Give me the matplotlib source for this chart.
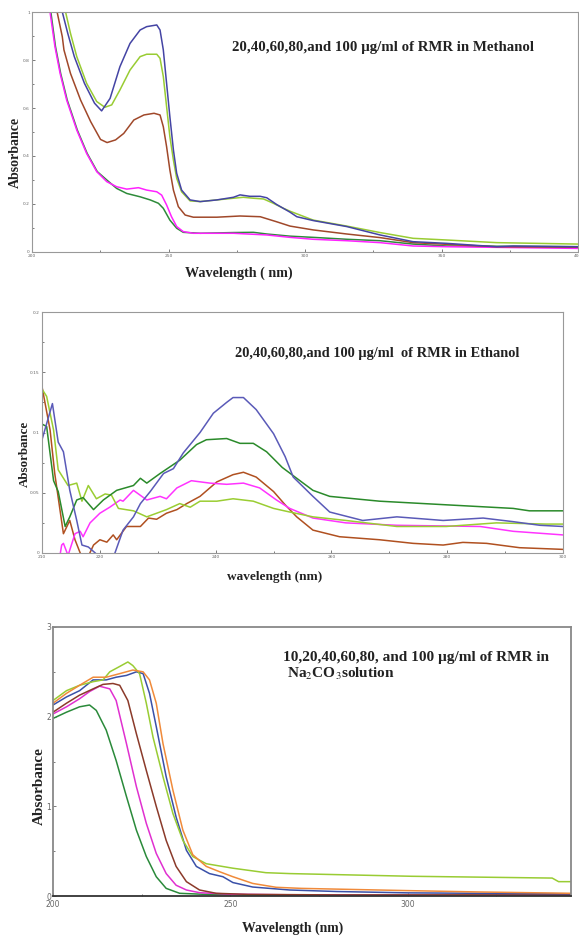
import matplotlib
matplotlib.use("Agg")
import matplotlib.pyplot as plt
from matplotlib.ticker import FixedLocator, FixedFormatter

plt.rcParams['mathtext.fontset'] = 'stix'

# ---------------- Panel 1: Methanol ----------------
m_blue_wl = [200, 205, 208, 211.1, 213.1, 215.5, 219.2, 222.9, 225.5, 228.6, 232.2, 235.9, 239.6, 242.0, 245.7, 246.9,
             248.1, 249.3, 250.5, 251.8, 253.0, 254.8, 257.9, 261.6, 267.7, 273.8, 276.2, 279.8, 283.6, 286.0, 289.6,
             294.5, 297.0, 303.0, 315.3, 327.5, 339.6, 351.9, 370.2, 376.3, 400]
m_blue = [1.80, 1.35, 1.12, 1.0, 0.911, 0.814, 0.703, 0.62, 0.588, 0.640, 0.772, 0.869, 0.925, 0.939, 0.946, 0.925,
          0.842, 0.703, 0.564, 0.425, 0.328, 0.258, 0.217, 0.21, 0.217, 0.228, 0.238, 0.232, 0.232, 0.226, 0.198,
          0.166, 0.147, 0.131, 0.106, 0.071, 0.043, 0.036, 0.022, 0.025, 0.022]

m_yg_wl = [200, 206, 209, 212.3, 214.1, 216.4, 220.0, 223.7, 226.7, 229.2, 232.2, 235.9, 239.6, 242.0, 245.7, 246.9,
           248.1, 249.3, 250.5, 251.8, 253.0, 254.8, 257.9, 261.6, 267.7, 273.8, 277.4, 281.1, 284.8, 288.4, 292.1,
           294.5, 303.0, 315.3, 327.5, 339.6, 351.9, 370.2, 400]
m_yg = [1.80, 1.30, 1.12, 1.0, 0.911, 0.814, 0.703, 0.627, 0.603, 0.613, 0.675, 0.758, 0.814, 0.824, 0.824, 0.807,
        0.731, 0.606, 0.481, 0.383, 0.307, 0.251, 0.213, 0.21, 0.217, 0.224, 0.228, 0.224, 0.221, 0.203, 0.182,
        0.170, 0.133, 0.108, 0.081, 0.057, 0.05, 0.039, 0.033]

m_br_wl = [200, 205, 209.2, 211.1, 211.7, 214.1, 217.8, 221.5, 225.1, 227.5, 230.6, 233.6, 237.3, 241.0, 244.7, 246.9,
           248.1, 249.3, 250.5, 251.8, 253.6, 256.1, 259.1, 267.7, 276.2, 283.6, 289.6, 294.5, 303.0, 315.3, 327.5,
           339.6, 351.9, 370.2, 400]
m_br = [1.70, 1.25, 1.0, 0.897, 0.842, 0.744, 0.633, 0.543, 0.469, 0.456, 0.467, 0.494, 0.550, 0.571, 0.578, 0.571,
        0.522, 0.439, 0.342, 0.258, 0.189, 0.154, 0.145, 0.145, 0.15, 0.147, 0.126, 0.108, 0.092, 0.075, 0.060,
        0.039, 0.032, 0.022, 0.020]

m_mg_wl = [200, 204, 206.6, 208.4, 210.3, 212.7, 216.4, 220.0, 223.7, 227.4, 231.0, 234.7, 239.0, 242.0, 245.7, 247.5,
           249.3, 251.1, 253.0, 255.4, 259.1, 273.8, 286.0, 294.5, 303.0, 315.3, 327.5, 339.6, 351.9, 400]
m_mg = [1.60, 1.20, 1.0, 0.856, 0.744, 0.633, 0.508, 0.411, 0.335, 0.293, 0.272, 0.262, 0.268, 0.258, 0.251, 0.237,
        0.196, 0.147, 0.106, 0.085, 0.078, 0.078, 0.071, 0.061, 0.053, 0.047, 0.039, 0.025, 0.022, 0.015]

m_gr_wl = [200, 204.3, 206.9, 208.6, 210.5, 212.9, 216.6, 220.2, 223.9, 227.4, 231.0, 234.7, 239.6, 243.3, 246.3,
           248.1, 250.5, 253.0, 255.4, 261.6, 273.8, 281.1, 286.0, 294.5, 303.0, 315.3, 327.5, 339.6, 351.9, 400]
m_gr = [1.60, 1.20, 1.0, 0.856, 0.744, 0.633, 0.508, 0.411, 0.335, 0.300, 0.265, 0.244, 0.230, 0.217, 0.203,
        0.182, 0.133, 0.099, 0.082, 0.078, 0.081, 0.082, 0.075, 0.066, 0.061, 0.053, 0.047, 0.033, 0.025, 0.022]

# ---------------- Panel 2: Ethanol ----------------
e_blue_wl = [210, 211.8, 212.8, 213.7, 214.8, 216.0, 216.9, 218.0, 219.2, 221.0, 222.6, 224.0, 225.8, 227.0, 228.7,
             231.0, 232.7, 234.4, 237.3, 239.6, 241.9, 243.0, 244.8, 247.0, 250.0, 252.0, 253.4, 256.8, 259.7, 265.4,
             271.3, 279.3, 286.2, 291.4, 296.0, 300]
e_blue = [0.094, 0.124, 0.092, 0.084, 0.052, 0.027, 0.0066, 0.005, 0.0, -0.01, 0.0, 0.019, 0.030, 0.041, 0.051,
          0.066, 0.070, 0.083, 0.100, 0.116, 0.125, 0.129, 0.129, 0.119, 0.099, 0.080, 0.063, 0.047, 0.034, 0.027,
          0.030, 0.027, 0.029, 0.026, 0.023, 0.022]

e_gr_wl = [210, 210.8, 212.0, 212.8, 214.0, 214.8, 216.0, 217.1, 218.9, 220.6, 222.9, 225.8, 227.0, 228.1, 230.4,
           233.8, 236.7, 238.4, 241.9, 244.2, 246.5, 248.8, 251.5, 254.0, 256.8, 259.7, 268.3, 279.8, 291.4, 294.2, 300]
e_gr = [0.107, 0.105, 0.060, 0.051, 0.022, 0.030, 0.044, 0.046, 0.036, 0.044, 0.052, 0.056, 0.062, 0.058, 0.066,
        0.077, 0.090, 0.094, 0.095, 0.091, 0.091, 0.084, 0.071, 0.062, 0.052, 0.047, 0.043, 0.040, 0.037, 0.035, 0.035]

e_yg_wl = [210, 210.8, 212.0, 212.8, 214.5, 216.0, 216.9, 218.0, 219.4, 220.9, 222.0, 223.2, 225.8, 228.1, 229.8,
           231.5, 233.8, 235.6, 237.3, 240.2, 243.0, 246.5, 250.0, 252.8, 256.8, 262.5, 271.3, 279.8, 288.5, 297.1, 300]
e_yg = [0.136, 0.130, 0.102, 0.069, 0.056, 0.058, 0.043, 0.056, 0.045, 0.049, 0.048, 0.037, 0.035, 0.030, 0.033,
        0.036, 0.041, 0.038, 0.043, 0.043, 0.045, 0.043, 0.037, 0.034, 0.030, 0.027, 0.022, 0.022, 0.025, 0.024, 0.024]

e_mg_wl = [213.0, 213.4, 213.7, 214.5, 215.7, 216.6, 217.1, 218.3, 220.0, 221.7, 223.5, 224.0, 225.8, 228.1, 230.4,
           231.5, 233.3, 235.8, 239.0, 241.9, 244.8, 247.6, 250.5, 252.8, 256.8, 262.5, 271.3, 285.7, 291.4, 300]
e_mg = [-0.005, 0.0066, 0.008, -0.002, 0.016, 0.018, 0.0135, 0.025, 0.033, 0.038, 0.044, 0.043, 0.052, 0.044, 0.047,
        0.045, 0.054, 0.060, 0.058, 0.057, 0.058, 0.054, 0.044, 0.037, 0.029, 0.025, 0.023, 0.022, 0.018, 0.015]

e_br_wl = [210, 211.4, 212.2, 213.7, 214.8, 215.7, 216.6, 217.5, 218.9, 220.0, 221.2, 222.3, 222.9, 224.6, 227.0,
           228.4, 229.8, 231.5, 233.3, 235.0, 237.3, 240.2, 243.0, 244.8, 247.0, 250.0, 252.0, 254.0, 256.8, 261.4,
           268.3, 274.1, 279.3, 282.7, 286.8, 292.5, 300]
e_br = [0.138, 0.102, 0.066, 0.016, 0.027, 0.011, 0.0, -0.008, 0.0066, 0.011, 0.009, 0.015, 0.011, 0.022, 0.022,
        0.029, 0.028, 0.033, 0.036, 0.041, 0.047, 0.059, 0.065, 0.067, 0.063, 0.051, 0.040, 0.030, 0.019, 0.0135,
        0.011, 0.008, 0.0066, 0.0088, 0.008, 0.0044, 0.003]

# ---------------- Panel 3: Na2CO3 ----------------
n_gr_wl = [200, 203.8, 207.5, 210.3, 212.2, 215.0, 217.8, 220.7, 223.5, 226.3, 229.1, 231.9, 235.7, 245, 260, 300, 346]
n_gr = [1.98, 2.05, 2.11, 2.13, 2.07, 1.85, 1.51, 1.11, 0.735, 0.44, 0.215, 0.085, 0.03, 0.015, 0.01, 0.008, 0.01]

n_mg_wl = [200, 203.8, 207.5, 210.3, 213.1, 216.0, 217.8, 220.7, 223.5, 226.3, 229.1, 231.9, 234.7, 237.6, 241.3,
           250, 270, 300, 320, 346]
n_mg = [2.03, 2.11, 2.20, 2.28, 2.34, 2.31, 2.18, 1.70, 1.22, 0.81, 0.475, 0.25, 0.12, 0.067, 0.037,
        0.02, 0.012, 0.008, 0.005, 0.01]

n_br_wl = [200, 203.8, 207.5, 211.3, 214.1, 216.9, 218.8, 221.1, 223.5, 226.3, 229.1, 231.9, 234.7, 237.6, 241.3,
           246.0, 255, 280, 346]
n_br = [2.05, 2.15, 2.24, 2.31, 2.36, 2.37, 2.35, 2.18, 1.81, 1.40, 1.00, 0.62, 0.33, 0.16, 0.067,
        0.03, 0.018, 0.012, 0.012]

n_blue_wl = [200, 203.8, 207.5, 211.3, 215.0, 217.8, 220.7, 223.5, 225.4, 227.2, 229.1, 231.9, 234.7, 237.6, 240.4,
             244.1, 247.9, 250.7, 256.3, 266.7, 280, 300, 320, 346]
n_blue = [2.13, 2.22, 2.29, 2.41, 2.41, 2.44, 2.46, 2.50, 2.48, 2.26, 1.89, 1.33, 0.88, 0.51, 0.33,
          0.25, 0.215, 0.15, 0.10, 0.067, 0.05, 0.035, 0.03, 0.025]

n_yg_wl = [200, 203.8, 207.5, 211.3, 214.1, 216.0, 218.8, 221.1, 222.5, 224.4, 226.3, 228.2, 231.0, 233.8, 236.6,
           239.4, 243.2, 250.7, 260.0, 266.7, 301.0, 340.7, 342.5, 346]
n_yg = [2.18, 2.29, 2.35, 2.39, 2.41, 2.50, 2.56, 2.61, 2.57, 2.48, 2.15, 1.77, 1.33, 0.92, 0.62,
        0.44, 0.36, 0.31, 0.26, 0.25, 0.22, 0.20, 0.16, 0.16]

n_or_wl = [200, 203.8, 207.5, 211.3, 215.0, 218.8, 222.5, 225.4, 227.2, 229.1, 231.0, 233.8, 236.6, 239.4, 243.2,
           247.0, 250.7, 256.3, 262.9, 270, 300, 320, 346]
n_or = [2.15, 2.26, 2.35, 2.44, 2.44, 2.48, 2.52, 2.50, 2.41, 2.15, 1.70, 1.18, 0.735, 0.46, 0.33,
        0.27, 0.215, 0.14, 0.097, 0.085, 0.06, 0.045, 0.03]

W, H = 579, 936
fig = plt.figure(figsize=(W / 100, H / 100), dpi=100)

def ax_at(left, top, right, bottom):
    return fig.add_axes([left / W, 1 - bottom / H, (right - left) / W, (bottom - top) / H])

def ftext(x, y, s, **kw):
    kw.setdefault('family', 'Liberation Serif')
    kw.setdefault('weight', 'bold')
    kw.setdefault('color', '#222222')
    fig.text(x / W, 1 - y / H, s, **kw)

def style(ax, spine_color, spine_w, tick_size):
    for sp in ax.spines.values():
        sp.set_color(spine_color)
        sp.set_linewidth(spine_w)
    ax.tick_params(which='both', direction='in', colors='#666666', labelsize=tick_size, pad=1.5)
    ax.tick_params(which='major', length=2.5, width=0.6)
    ax.tick_params(which='minor', length=1.5, width=0.6)

lw = 1.1

# Panel 1
ax1 = ax_at(32, 12, 578, 252)
ax1.plot(m_gr_wl, m_gr, color='#2e8b3a', lw=lw)
ax1.plot(m_mg_wl, m_mg, color='#ff22ff', lw=lw)
ax1.plot(m_br_wl, m_br, color='#a0482a', lw=lw)
ax1.plot(m_yg_wl, m_yg, color='#99cc33', lw=lw)
ax1.plot(m_blue_wl, m_blue, color='#4444a4', lw=lw)
ax1.set_xlim(200, 400)
ax1.set_ylim(0, 1)
ax1.xaxis.set_major_locator(FixedLocator([200, 250, 300, 350, 400]))
ax1.xaxis.set_minor_locator(FixedLocator([225, 275, 325, 375]))
ax1.yaxis.set_major_locator(FixedLocator([0, 0.2, 0.4, 0.6, 0.8, 1.0]))
ax1.yaxis.set_major_formatter(FixedFormatter(['0', '0.2', '0.4', '0.6', '0.8', '1']))
ax1.yaxis.set_minor_locator(FixedLocator([0.1, 0.3, 0.5, 0.7, 0.9]))
style(ax1, '#999999', 0.8, 3.2)
ftext(232, 47, '20,40,60,80,and 100 µg/ml of RMR in Methanol', fontsize=10.7, va='center', ha='left')
ftext(239, 273, 'Wavelength ( nm)', fontsize=10.2, va='center', ha='center')
ftext(15, 152, 'Absorbance', fontsize=10.0, va='center', ha='center', rotation=90)

# Panel 2
ax2 = ax_at(42, 312, 563, 553)
ax2.plot(e_br_wl, e_br, color='#b05020', lw=lw)
ax2.plot(e_mg_wl, e_mg, color='#ff33ff', lw=lw)
ax2.plot(e_yg_wl, e_yg, color='#9acd32', lw=lw)
ax2.plot(e_gr_wl, e_gr, color='#2a8a2a', lw=lw)
ax2.plot(e_blue_wl, e_blue, color='#5a5ab8', lw=lw)
ax2.set_xlim(210, 300)
ax2.set_ylim(0, 0.2)
ax2.xaxis.set_major_locator(FixedLocator([210, 220, 240, 260, 280, 300]))
ax2.xaxis.set_minor_locator(FixedLocator([230, 250, 270, 290]))
ax2.yaxis.set_major_locator(FixedLocator([0, 0.05, 0.1, 0.15, 0.2]))
ax2.yaxis.set_major_formatter(FixedFormatter(['0', '0.05', '0.1', '0.15', '0.2']))
ax2.yaxis.set_minor_locator(FixedLocator([0.025, 0.075, 0.125, 0.175]))
style(ax2, '#999999', 0.8, 3.2)
ftext(235, 353, '20,40,60,80,and 100 µg/ml  of RMR in Ethanol', fontsize=10.35, va='center', ha='left')
ftext(275, 577, 'wavelength (nm)', fontsize=9.5, va='center', ha='center')
ftext(25, 454, 'Absorbance', fontsize=9.4, va='center', ha='center', rotation=90)

# Panel 3
ax3 = ax_at(53, 627, 571, 896)
ax3.plot(n_gr_wl, n_gr, color='#2a8a3a', lw=lw)
ax3.plot(n_mg_wl, n_mg, color='#e030d0', lw=lw)
ax3.plot(n_br_wl, n_br, color='#8b3a2a', lw=lw)
ax3.plot(n_blue_wl, n_blue, color='#3a50a8', lw=lw)
ax3.plot(n_yg_wl, n_yg, color='#99cc33', lw=lw)
ax3.plot(n_or_wl, n_or, color='#f08a3a', lw=lw)
ax3.set_xlim(200, 346)
ax3.set_ylim(0, 3)
ax3.xaxis.set_major_locator(FixedLocator([200, 250, 300]))
ax3.xaxis.set_minor_locator(FixedLocator([225, 275, 325]))
ax3.yaxis.set_major_locator(FixedLocator([0, 1, 2, 3]))
ax3.yaxis.set_minor_locator(FixedLocator([0.5, 1.5, 2.5]))
style(ax3, '#888888', 1.3, 5.5)
ax3.tick_params(axis='x', pad=3)
ax3.spines['bottom'].set_color('#333333')
ftext(283, 657, '10,20,40,60,80, and 100 µg/ml of RMR in', fontsize=11.0, va='center', ha='left')
ftext(287, 674, r'Na$_2$CO$_3$solution', fontsize=11.0, va='center', ha='left')
ftext(293, 928, 'Wavelength (nm)', fontsize=9.9, va='center', ha='center')
ftext(39, 786, 'Absorbance', fontsize=11.0, va='center', ha='center', rotation=90)

fig.savefig('out.png', dpi=100)
